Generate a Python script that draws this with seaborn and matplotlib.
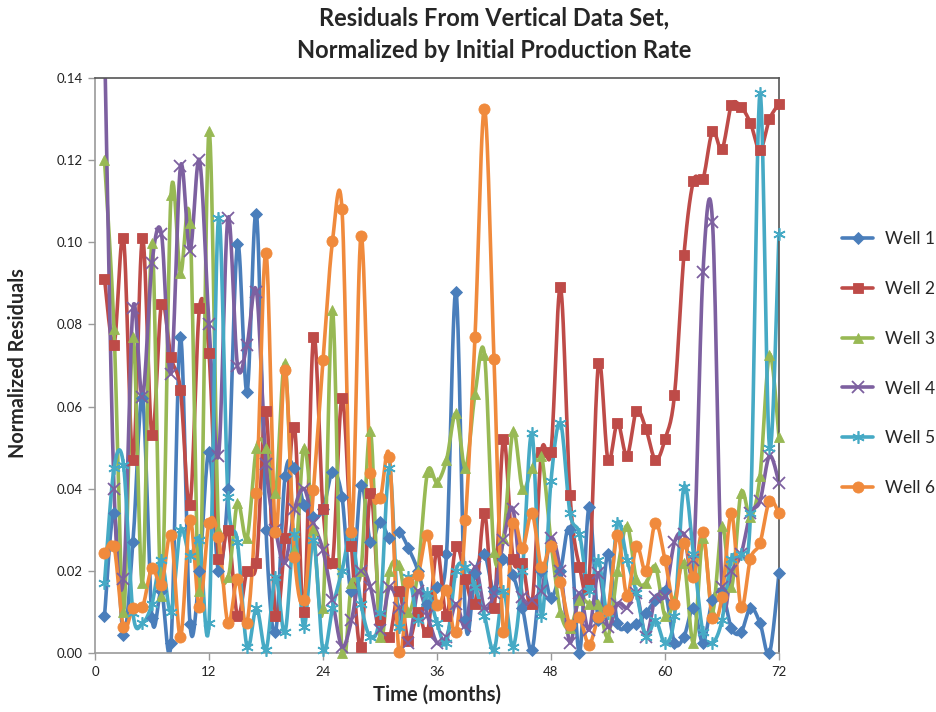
import numpy as np
import pandas as pd
import matplotlib
matplotlib.use("Agg")
import matplotlib.pyplot as plt
from matplotlib.lines import Line2D
import seaborn as sns

months = list(range(1, 73))

well1 = [0.009, 0.034, 0.0045, 0.027, 0.062, 0.0085, 0.015, 0.0025, 0.077, 0.007, 0.02, 0.049,
         0.02, 0.04, 0.0995, 0.0635, 0.107, 0.03, 0.005, 0.043, 0.045, 0.036, 0.033, 0.035,
         0.044, 0.038, 0.015, 0.041, 0.027, 0.032, 0.028, 0.0295, 0.0255, 0.02, 0.012, 0.016,
         0.024, 0.088, 0.008, 0.0195, 0.024, 0.015, 0.023, 0.019, 0.011, 0.0008, 0.02, 0.0135,
         0.02, 0.030, 0.0, 0.0355, 0.008, 0.024, 0.0073, 0.0063, 0.007, 0.0097, 0.013, 0.015,
         0.0025, 0.004, 0.011, 0.0025, 0.013, 0.015, 0.006, 0.005, 0.011, 0.0073, 0.0, 0.0195]
well2 = [0.091, 0.075, 0.101, 0.047, 0.101, 0.053, 0.085, 0.072, 0.064, 0.036, 0.084, 0.073,
         0.023, 0.030, 0.009, 0.020, 0.022, 0.059, 0.009, 0.028, 0.055, 0.010, 0.077, 0.035,
         0.022, 0.062, 0.026, 0.0015, 0.039, 0.008, 0.004, 0.015, 0.003, 0.010, 0.005, 0.025,
         0.009, 0.026, 0.018, 0.012, 0.034, 0.011, 0.052, 0.023, 0.022, 0.012, 0.049, 0.049,
         0.089, 0.0385, 0.021, 0.018, 0.0705, 0.047, 0.056, 0.048, 0.059, 0.0545, 0.047, 0.052,
         0.0628, 0.097, 0.115, 0.1155, 0.127, 0.1227, 0.1334, 0.133, 0.129, 0.1225, 0.13, 0.1337]
well3 = [0.12, 0.079, 0.01, 0.077, 0.017, 0.0998, 0.014, 0.1115, 0.0925, 0.1047, 0.015, 0.127,
         0.03, 0.0185, 0.0365, 0.028, 0.050, 0.050, 0.039, 0.0705, 0.025, 0.050, 0.03, 0.011,
         0.0835, 0.0, 0.017, 0.02, 0.054, 0.004, 0.020, 0.0215, 0.01, 0.02, 0.044, 0.0416,
         0.047, 0.0584, 0.045, 0.063, 0.0726, 0.0246, 0.028, 0.054, 0.040, 0.045, 0.048, 0.027,
         0.01, 0.006, 0.013, 0.012, 0.012, 0.004, 0.02, 0.031, 0.018, 0.017, 0.021, 0.009,
         0.013, 0.022, 0.0025, 0.028, 0.01, 0.031, 0.016, 0.039, 0.033, 0.043, 0.0726, 0.0527]
well4 = [0.15, 0.040, 0.018, 0.084, 0.0623, 0.095, 0.102, 0.068, 0.1185, 0.098, 0.12, 0.080,
         0.048, 0.106, 0.070, 0.075, 0.088, 0.046, 0.03, 0.022, 0.035, 0.04, 0.0317, 0.025,
         0.013, 0.0015, 0.008, 0.02, 0.016, 0.0056, 0.016, 0.011, 0.0025, 0.015, 0.009, 0.0025,
         0.004, 0.012, 0.0065, 0.021, 0.011, 0.0145, 0.0275, 0.035, 0.0137, 0.013, 0.015, 0.028,
         0.02, 0.0025, 0.0146, 0.0056, 0.0195, 0.0063, 0.012, 0.011, 0.0146, 0.004, 0.0137, 0.014,
         0.027, 0.029, 0.0227, 0.0928, 0.105, 0.016, 0.02, 0.024, 0.034, 0.037, 0.048, 0.0415]
well5 = [0.017, 0.045, 0.0458, 0.0097, 0.0073, 0.012, 0.0227, 0.01, 0.03, 0.0235, 0.0275, 0.0073,
         0.106, 0.038, 0.027, 0.0015, 0.011, 0.0007, 0.0185, 0.005, 0.029, 0.0063, 0.0275, 0.0007,
         0.011, 0.02, 0.029, 0.012, 0.004, 0.0097, 0.045, 0.0063, 0.0185, 0.008, 0.0146, 0.0073,
         0.0025, 0.02, 0.021, 0.016, 0.009, 0.0007, 0.015, 0.0015, 0.02, 0.0535, 0.009, 0.042,
         0.056, 0.034, 0.029, 0.015, 0.0226, 0.0097, 0.0317, 0.0226, 0.0146, 0.004, 0.008, 0.0025,
         0.009, 0.0405, 0.024, 0.005, 0.0025, 0.008, 0.023, 0.024, 0.034, 0.1363, 0.050, 0.102]
well6 = [0.0243, 0.026, 0.0063, 0.011, 0.0112, 0.0207, 0.0166, 0.0287, 0.004, 0.0324, 0.0112, 0.0317,
         0.0283, 0.0073, 0.018, 0.0073, 0.039, 0.0975, 0.0295, 0.069, 0.0234, 0.013, 0.0397, 0.0713,
         0.1003, 0.108, 0.0295, 0.1015, 0.0438, 0.0377, 0.0477, 0.0002, 0.0173, 0.019, 0.0287, 0.0117,
         0.0153, 0.005, 0.0324, 0.077, 0.1325, 0.0716, 0.005, 0.0317, 0.0256, 0.034, 0.021, 0.026,
         0.0173, 0.0068, 0.0088, 0.002, 0.0088, 0.0105, 0.0287, 0.014, 0.026, 0.020, 0.0317, 0.0227,
         0.012, 0.0268, 0.0185, 0.0295, 0.0085, 0.0136, 0.034, 0.0112, 0.023, 0.0268, 0.037, 0.034]

series_names = ["Well 1", "Well 2", "Well 3", "Well 4", "Well 5", "Well 6"]
series_values = [well1, well2, well3, well4, well5, well6]
colors = ["#4A7EBB", "#BE4B48", "#98B954", "#7D60A0", "#46AAC5", "#F08A3C"]
markers = ["D", "s", "^", "x", (6, 2, 0), "o"]
msizes = [6.5, 7.5, 7.5, 8, 9, 8]
mews = [0.6, 0.6, 0.6, 1.3, 1.2, 0.6]

xticks = [0, 12, 24, 36, 48, 60, 72]
yticks = [0.00, 0.02, 0.04, 0.06, 0.08, 0.10, 0.12, 0.14]


def smooth(x, y, n=14):
    x = np.asarray(x, float)
    y = np.asarray(y, float)
    xp = np.concatenate([[x[0]], x, [x[-1]]])
    yp = np.concatenate([[y[0]], y, [y[-1]]])
    t = np.linspace(0, 1, n, endpoint=False)
    ox, oy = [], []
    for i in range(len(x) - 1):
        p0 = np.array([xp[i], yp[i]])
        p1 = np.array([xp[i + 1], yp[i + 1]])
        p2 = np.array([xp[i + 2], yp[i + 2]])
        p3 = np.array([xp[i + 3], yp[i + 3]])
        c1 = p1 + (p2 - p0) / 6.0
        c2 = p2 - (p3 - p1) / 6.0
        b = ((1 - t) ** 3)[:, None] * p1 + (3 * (1 - t) ** 2 * t)[:, None] * c1 \
            + (3 * (1 - t) * t ** 2)[:, None] * c2 + (t ** 3)[:, None] * p2
        ox.extend(b[:, 0])
        oy.extend(b[:, 1])
    ox.append(x[-1])
    oy.append(y[-1])
    return np.array(ox), np.array(oy)


sns.set_theme(style="white")
plt.rcParams["font.family"] = ["Lato", "DejaVu Sans"]

fig = plt.figure(figsize=(9.37, 7.12), dpi=100)
ax = fig.add_axes([95 / 937, 1 - 653 / 712, (779 - 95) / 937, (653 - 78) / 712])

handles = []
for name, vals, c, m, ms, mw in zip(series_names, series_values, colors, markers, msizes, mews):
    sx, sy = smooth(months, vals)
    df = pd.DataFrame({"x": sx, "y": sy})
    sns.lineplot(data=df, x="x", y="y", ax=ax, color=c, lw=2.6, sort=False,
                 estimator=None, legend=False, zorder=2)
    mv = np.array(vals, float)
    mx = np.array(months, float)
    keep = mv <= 0.1405
    ax.plot(mx[keep], mv[keep], ls="none", marker=m, ms=ms, color=c,
            mec=c, mew=mw, clip_on=False, zorder=3)
    handles.append(Line2D([0], [0], color=c, lw=2.6, marker=m, ms=ms, mec=c, mew=mw))

ax.set_xlim(0, 72)
ax.set_ylim(0, 0.14)
ax.set_xticks(xticks)
ax.set_yticks(yticks)
ax.set_yticklabels([f"{v:.2f}" for v in yticks])
ax.tick_params(axis="both", labelsize=9.5, direction="out",
               length=5, width=1, bottom=True, left=True, pad=4,
               colors="#9A9A9A", labelcolor="#222222")
for side in ("left", "bottom"):
    ax.spines[side].set_color("#9A9A9A")
    ax.spines[side].set_linewidth(1.2)
for side in ("top", "right"):
    ax.spines[side].set_color("#555555")
    ax.spines[side].set_linewidth(1.2)
ax.grid(False)

ax.set_xlabel("Time (months)", fontsize=14.5, fontweight="bold", labelpad=5)
ax.set_ylabel("Normalized Residuals", fontsize=14.2, fontweight="bold", labelpad=4)
ax.yaxis.set_label_coords(-0.098, 0.505)

fig.text(0.527, 0.952, "Residuals From Vertical Data Set,\nNormalized by Initial Production Rate",
         ha="center", va="center", fontsize=17, fontweight="bold", linespacing=1.55)

fig.legend(handles, series_names, loc="upper left", bbox_to_anchor=(835 / 937, 1 - 224 / 712),
           frameon=False, fontsize=12.5, handlelength=1.8, labelspacing=1.95,
           handletextpad=0.7, borderaxespad=0)

fig.savefig("out.png", dpi=100)
